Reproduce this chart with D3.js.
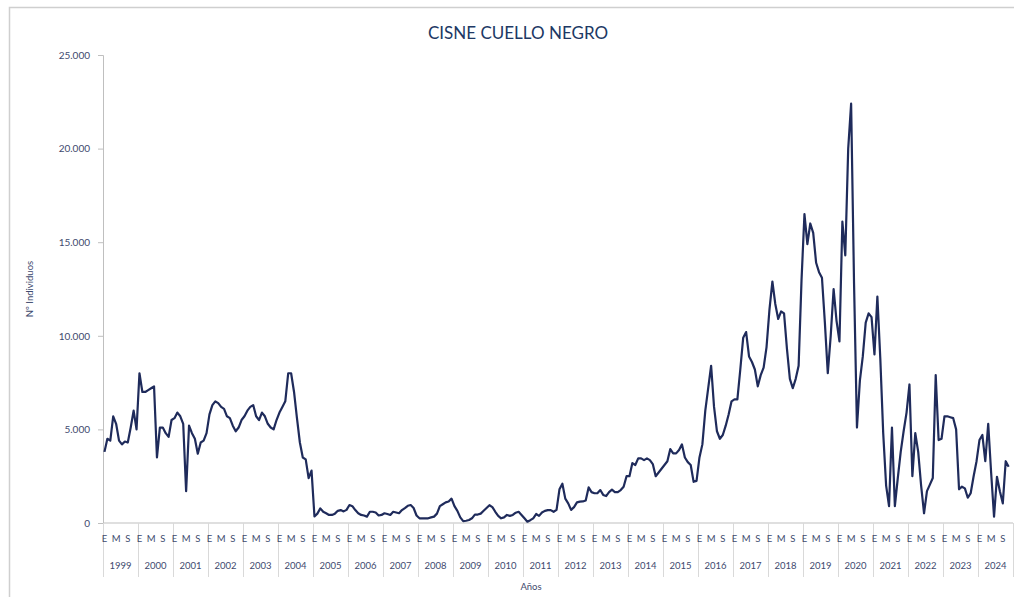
<!DOCTYPE html>
<html><head><meta charset="utf-8">
<script src="https://cdn.jsdelivr.net/npm/d3@7"></script>
<style>
body{margin:0;background:#fff;}
svg{display:block;font-family:Lato,"Open Sans",sans-serif;}
</style>
</head><body>
<svg id="c" width="1014" height="597"></svg>
<script>
const chartTitle = "CISNE CUELLO NEGRO";
const yTitle = "Nº Individuos";
const xTitle = "Años";
const years = [1999,2000,2001,2002,2003,2004,2005,2006,2007,2008,2009,2010,2011,2012,2013,2014,2015,2016,2017,2018,2019,2020,2021,2022,2023,2024];
const monthLetters = ["E","M","S"];
const monthLetterIdx = [0,4,8];
const yTicks = [0,5000,10000,15000,20000,25000];

const v1999 = [3800,4500,4400,5700,5300,4400,4200,4350,4300,5100,6000,5000];
const v2000 = [8000,7000,7000,7100,7200,7300,3500,5100,5100,4800,4600,5500];
const v2001 = [5600,5900,5700,5300,1700,5200,4800,4500,3700,4300,4400,4800];
const v2002 = [5800,6300,6500,6400,6200,6100,5700,5600,5200,4900,5100,5500];
const v2003 = [5700,6000,6200,6300,5700,5500,5900,5700,5300,5100,5000,5500];
const v2004 = [5900,6200,6500,8000,8000,7000,5600,4300,3500,3400,2400,2800];
const v2005 = [350,500,780,600,520,430,430,500,650,690,620,700];
const v2006 = [960,900,690,520,430,400,340,600,600,560,400,430];
const v2007 = [520,480,430,600,560,520,690,800,920,960,800,400];
const v2008 = [250,250,250,250,300,340,500,900,1000,1100,1150,1300];
const v2009 = [900,650,300,100,120,160,250,450,450,500,650,800];
const v2010 = [950,850,600,380,250,300,430,380,430,550,600,430];
const v2011 = [250,70,150,250,480,380,560,650,690,690,600,700];
const v2012 = [1800,2100,1300,1050,700,850,1100,1140,1150,1200,1900,1650];
const v2013 = [1590,1590,1760,1500,1440,1650,1780,1650,1650,1760,1940,2500];
const v2014 = [2500,3200,3100,3450,3450,3360,3450,3360,3150,2500,2700,2900];
const v2015 = [3100,3300,3950,3720,3720,3900,4200,3500,3250,3100,2200,2250];
const v2016 = [3500,4200,6000,7200,8400,6200,4900,4500,4700,5200,5800,6500];
const v2017 = [6600,6600,8200,9900,10200,8900,8600,8200,7300,7900,8300,9400];
const v2018 = [11400,12900,11700,10900,11300,11200,9300,7700,7200,7700,8400,13000];
const v2019 = [16500,14900,16000,15500,13900,13400,13100,10700,8000,10000,12500,10800];
const v2020 = [9700,16100,14300,20000,22400,12800,5100,7600,8900,10700,11200,11000];
const v2021 = [9000,12100,8800,4800,2000,900,5100,900,2400,3800,4900,5900];
const v2022 = [7400,2500,4800,3800,2000,520,1700,2050,2400,7900,4430,4500];
const v2023 = [5700,5700,5650,5600,5000,1800,1940,1850,1350,1600,2500,3300];
const v2024 = [4430,4700,3300,5300,2700,340,2470,1700,1050,3300,3000,null];

const series = [v1999,v2000,v2001,v2002,v2003,v2004,v2005,v2006,v2007,v2008,v2009,v2010,v2011,v2012,v2013,v2014,v2015,v2016,v2017,v2018,v2019,v2020,v2021,v2022,v2023,v2024].flat();

const svg = d3.select("#c");
const W = 1014, H = 597;
const X0 = 103, X1 = 1013, Y0 = 523, Y1 = 55;
const nMonths = years.length * 12;
const x = d3.scaleLinear().domain([0, nMonths]).range([X0, X1]);
const y = d3.scaleLinear().domain([0, 25000]).range([Y0, Y1]);
const loc = d3.formatLocale({decimal:",", thousands:".", grouping:[3], currency:["",""]});
const fmt = loc.format(",");

const txt = "#3E4A6E";
const axisCol = "#BFBFBF";

// border
svg.append("rect").attr("x",9.5).attr("y",7.5).attr("width",W).attr("height",H)
  .attr("fill","none").attr("stroke","#CFCFCF").attr("stroke-width",1.5);

// title
svg.append("text").attr("x",518).attr("y",39).attr("text-anchor","middle")
  .attr("font-size",17).attr("fill","#203864").text(chartTitle);

// y axis
const ya = svg.append("g").attr("transform",`translate(${X0},0)`)
  .call(d3.axisLeft(y).tickValues(yTicks).tickSize(5).tickPadding(8).tickFormat(fmt));
ya.select(".domain").attr("stroke",axisCol);
ya.selectAll(".tick line").attr("stroke",axisCol);
ya.selectAll(".tick text").attr("fill",txt).attr("font-size",10).attr("font-family","Lato");

// x axis with year separators
const xa = svg.append("g").attr("transform",`translate(0,${Y0})`)
  .call(d3.axisBottom(x).tickValues(d3.range(0, nMonths + 1, 12)).tickSize(54).tickFormat(""));
xa.select(".domain").attr("stroke",axisCol);
xa.selectAll(".tick line").attr("stroke","#D9D9D9");
xa.select(".domain").attr("d",`M${X0},0H${X1}`);

// month letters
const ml = [];
years.forEach((yr, k) => monthLetterIdx.forEach((m, j) => ml.push({t: monthLetters[j], i: k*12 + m})));
svg.append("g").selectAll("text").data(ml).join("text")
  .attr("x", d => x(d.i + 0.5)).attr("y", 542).attr("text-anchor","middle")
  .attr("font-size",9.5).attr("fill",txt).text(d => d.t);

// year labels
svg.append("g").selectAll("text").data(years).join("text")
  .attr("x", (d,k) => x(k*12 + 6)).attr("y", 569).attr("text-anchor","middle")
  .attr("font-size",9.5).attr("fill",txt).text(d => d);

// axis titles
svg.append("text").attr("x",531).attr("y",590).attr("text-anchor","middle")
  .attr("font-size",9.5).attr("fill",txt).text(xTitle);
svg.append("text").attr("transform","translate(33,289) rotate(-90)").attr("text-anchor","middle")
  .attr("font-size",9.5).attr("fill",txt).text(yTitle);

// line
const line = d3.line().defined(d => d != null)
  .x((d,i) => x(i + 0.5)).y(d => y(d));
svg.append("path").datum(series).attr("d", line)
  .attr("fill","none").attr("stroke","#1F2B5B").attr("stroke-width",2.2)
  .attr("stroke-linejoin","round");
</script>
</body></html>
